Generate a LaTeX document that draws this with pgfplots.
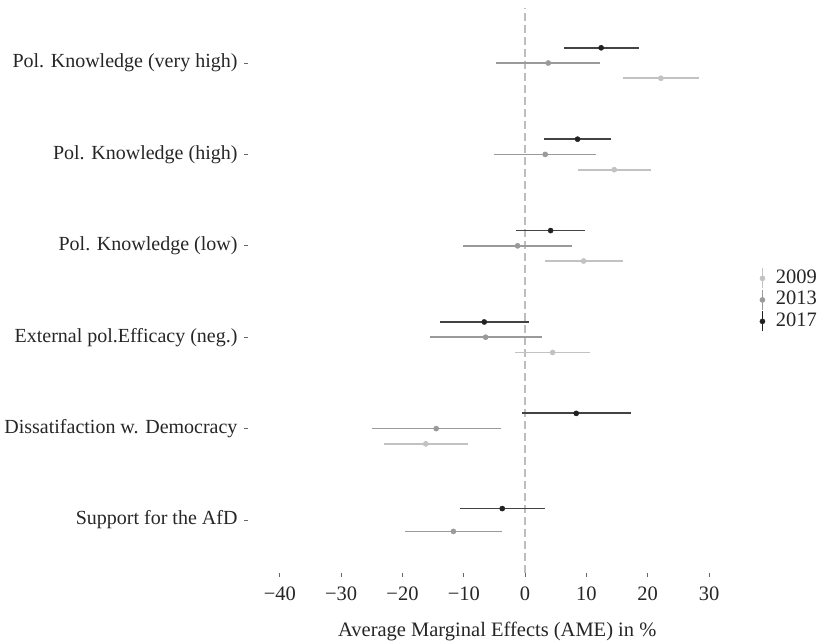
\documentclass[border=0pt]{standalone}
\usepackage{pgfplots}
\pgfplotsset{compat=1.18}
\usepackage{pgfplotstable}
\usepackage{fontspec}
\setmainfont{Liberation Serif}
\definecolor{c09}{HTML}{C2C2C2}
\definecolor{c13}{HTML}{9A9A9A}
\definecolor{c17}{HTML}{222222}
\definecolor{txt}{HTML}{262626}
\definecolor{refgray}{HTML}{BDBDBD}

% y position, estimate, lower, upper
\pgfplotstableread{
y est lo hi
5.8333 22.15 16.0 28.3
4.8333 14.54 8.67 20.47
3.8333 9.54 3.28 15.9
2.8333 4.49 -1.66 10.62
1.8333 -16.2 -23.0 -9.28
}\tA
\pgfplotstableread{
y est lo hi
6 3.77 -4.76 12.25
5 3.28 -5.04 11.5
4 -1.22 -10.1 7.59
3 -6.44 -15.5 2.69
2 -14.5 -25.0 -4.0
0.875 -11.7 -19.6 -3.78
}\tB
\pgfplotstableread{
y est lo hi
6.1667 12.4 6.33 18.5
5.1667 8.56 3.07 14.0
4.1667 4.16 -1.45 9.76
3.1667 -6.67 -13.85 0.57
2.1667 8.34 -0.47 17.26
1.125 -3.73 -10.6 3.23
}\tC

\newcommand{\fs}{\fontsize{20.5bp}{24bp}\selectfont}
\newcommand{\fsy}{\fontsize{20bp}{24bp}\selectfont}

\begin{document}
\begin{tikzpicture}
\path[use as bounding box] (0,0) rectangle (822bp,641bp);
\begin{axis}[
  at={(248bp,68bp)}, anchor=south west,
  scale only axis, width=482.5bp, height=564.8bp,
  xmin=-45.2, xmax=33.5, ymin=0.42, ymax=6.6,
  axis line style={draw=none},
  xtick={-40,-30,...,30},
  xticklabels={−40,−30,−20,−10,0,10,20,30},
  ytick={1,2,3,4,5,6},
  yticklabels={Support for the AfD, Dissatifaction w. Democracy, External pol.Efficacy (neg.), Pol. Knowledge (low), Pol. Knowledge (high), Pol. Knowledge (very high)},
  tick align=outside, major tick length=4bp,
  tick style={color=txt!70, line width=0.8bp},
  xtick pos=bottom, ytick pos=left,
  ticklabel style={font=\fs, text=txt},
  xticklabel style={yshift=-6bp},
  yticklabel style={font=\fsy, xshift=-3bp},
  xlabel={Average Marginal Effects (AME) in \%},
  xlabel style={font=\fs, text=txt, xshift=8bp, yshift=-15bp},
  clip=false,
  legend image code/.code={
    \draw[line width=1.5bp] (0bp,-10bp) -- (0bp,10bp);
    \fill (0bp,0bp) circle (2.6bp);
  },
  legend style={draw=none, fill=none, at={(1.06,0.541)}, anchor=north west,
    font=\fs, text=txt, inner sep=0pt, row sep=0bp,
    nodes={inner sep=1.5bp, text height=14bp, text depth=4bp},
    /tikz/every odd column/.append style={column sep=9bp}},
  legend cell align=left,
]
\addplot[refgray, line width=1.4bp, dash pattern=on 8bp off 4bp, forget plot]
  coordinates {(0,0.42) (0,6.6)};

\addplot[c09, only marks, mark=*, mark size=2.6bp,
  error bars/.cd, x dir=both, x explicit, error mark=none,
  error bar style={line width=1.8bp, c09}]
  table[x=est, y=y, x error plus expr=\thisrow{hi}-\thisrow{est},
        x error minus expr=\thisrow{est}-\thisrow{lo}] {\tA};
\addlegendentry{2009}
\addplot[c13, only marks, mark=*, mark size=2.6bp,
  error bars/.cd, x dir=both, x explicit, error mark=none,
  error bar style={line width=1.8bp, c13}]
  table[x=est, y=y, x error plus expr=\thisrow{hi}-\thisrow{est},
        x error minus expr=\thisrow{est}-\thisrow{lo}] {\tB};
\addlegendentry{2013}
\addplot[c17, only marks, mark=*, mark size=2.6bp,
  error bars/.cd, x dir=both, x explicit, error mark=none,
  error bar style={line width=1.8bp, c17!85}]
  table[x=est, y=y, x error plus expr=\thisrow{hi}-\thisrow{est},
        x error minus expr=\thisrow{est}-\thisrow{lo}] {\tC};
\addlegendentry{2017}
\end{axis}
\end{tikzpicture}
\end{document}
